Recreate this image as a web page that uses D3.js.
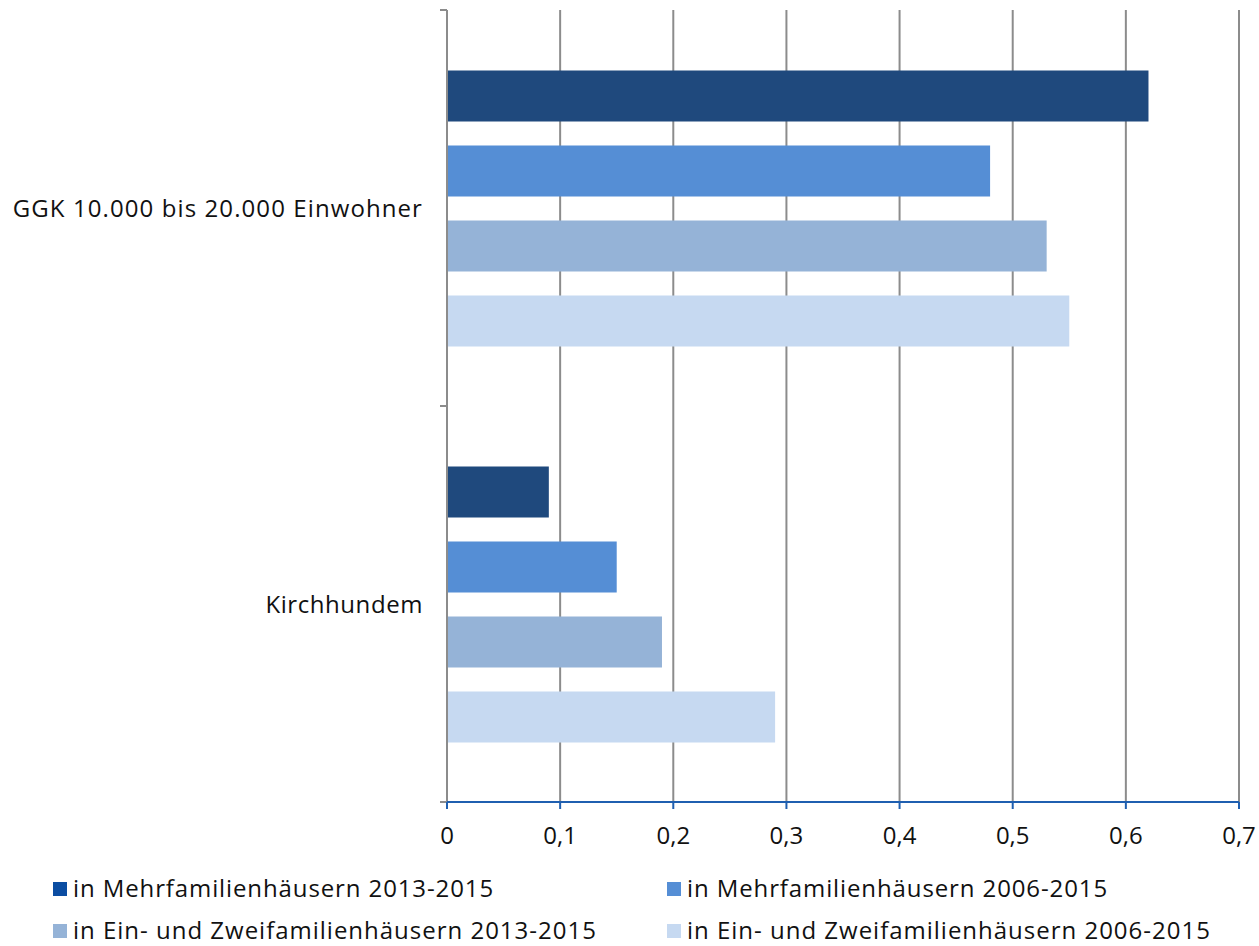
<!DOCTYPE html>
<html><head><meta charset="utf-8">
<script src="https://cdn.jsdelivr.net/npm/d3@7"></script>
<style>body{margin:0;background:#fff}svg{display:block}text{font-family:"Open Sans",sans-serif;fill:#111}</style>
</head><body><svg id="c" width="1259" height="946"></svg>
<script>
const categories = ["GGK 10.000 bis 20.000 Einwohner", "Kirchhundem"];
const seriesNames = ["in Mehrfamilienhäusern 2013-2015","in Mehrfamilienhäusern 2006-2015","in Ein- und Zweifamilienhäusern 2013-2015","in Ein- und Zweifamilienhäusern 2006-2015"];
const values = [
  [0.62, 0.48, 0.53, 0.55],
  [0.09, 0.15, 0.19, 0.29]
];
const barColors = ["#1F497D","#558ED5","#95B3D7","#C6D9F1"];
const legendColors = ["#0B4DA2","#558ED5","#95B3D7","#C6D9F1"];
const xTicks = [0,0.1,0.2,0.3,0.4,0.5,0.6,0.7];

const svg = d3.select("#c");
const L=447, R=1239, T=10, B=802;
const FS=24;
const x = d3.scaleLinear().domain([0,0.7]).range([L,R]);
const y0 = d3.scaleBand().domain(categories).range([T,B]);
const y1 = d3.scaleBand().domain(d3.range(4)).range([60.5, 336.5]).paddingInner(0.32);

function fit(sel, w){ sel.each(function(){ const n=this; const cur=n.getComputedTextLength(); if(cur>0) n.setAttribute("letter-spacing", ((w-cur)/Math.max(1,n.textContent.length-1)).toFixed(2)); }); }

svg.append("g").selectAll("line").data(xTicks.slice(1)).join("line")
  .attr("x1",d=>x(d)).attr("x2",d=>x(d)).attr("y1",T).attr("y2",B)
  .attr("stroke","#8c8c8c").attr("stroke-width",2);

categories.forEach((c,ci)=>{
  svg.append("g").selectAll("rect").data(values[ci]).join("rect")
    .attr("x",x(0)).attr("y",(d,i)=>y0(c)+y1(i))
    .attr("width",d=>x(d)-x(0)).attr("height",y1.bandwidth())
    .attr("fill",(d,i)=>barColors[i]);
});

svg.append("line").attr("x1",L).attr("x2",L).attr("y1",T).attr("y2",B).attr("stroke","#8c8c8c").attr("stroke-width",2);
const ys=[T, y0(categories[1]), B];
svg.append("g").selectAll("line").data(ys).join("line")
  .attr("x1",L-7).attr("x2",L).attr("y1",d=>d).attr("y2",d=>d).attr("stroke","#8c8c8c").attr("stroke-width",2);
const cl = svg.append("g").selectAll("text").data(categories).join("text")
  .attr("x",423).attr("y",d=>y0(d)+y0.bandwidth()/2+1).attr("text-anchor","end").attr("dy","0.35em")
  .attr("font-size",FS).text(d=>d);

svg.append("line").attr("x1",L).attr("x2",R).attr("y1",B).attr("y2",B).attr("stroke","#1f5fb0").attr("stroke-width",2);
svg.append("g").selectAll("line").data(xTicks).join("line")
  .attr("x1",d=>x(d)).attr("x2",d=>x(d)).attr("y1",B).attr("y2",B+7).attr("stroke","#1f5fb0").attr("stroke-width",2);
svg.append("g").selectAll("text").data(xTicks).join("text")
  .attr("x",d=>x(d)).attr("y",836).attr("text-anchor","middle").attr("dy","0.35em")
  .attr("font-size",FS).text(d=>String(d).replace(".",","));

const lx=[53,667], ly=[889,931];
const lt=[];
seriesNames.forEach((s,i)=>{
  const gx=lx[i%2], gy=ly[Math.floor(i/2)];
  svg.append("rect").attr("x",gx).attr("y",gy-7).attr("width",14).attr("height",14).attr("fill",legendColors[i]);
  lt.push(svg.append("text").attr("x",gx+20).attr("y",gy).attr("dy","0.35em").attr("font-size",FS).text(s));
});
fit(cl.filter((d,i)=>i===0), 409);
fit(cl.filter((d,i)=>i===1), 157);
fit(lt[0], 420); fit(lt[1], 420); fit(lt[2], 523); fit(lt[3], 523);
</script></body></html>
